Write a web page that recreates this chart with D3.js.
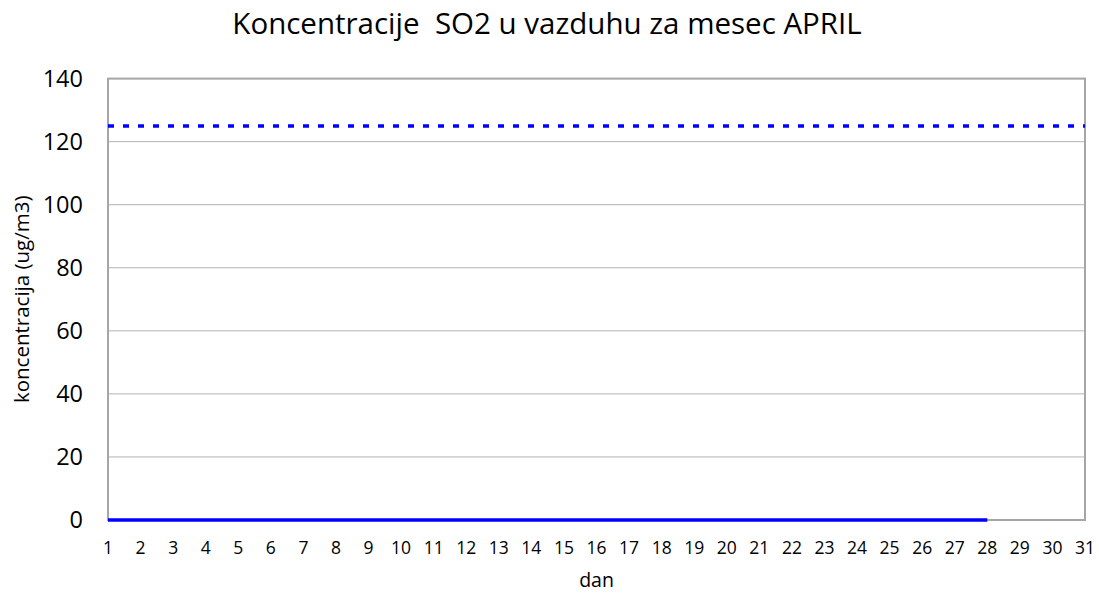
<!DOCTYPE html>
<html>
<head>
<meta charset="utf-8">
<script src="https://cdn.jsdelivr.net/npm/d3@7"></script>
<style>
  body { margin: 0; background: #fff; }
  text { font-family: "Open Sans", sans-serif; fill: #000; }
</style>
</head>
<body>
<div id="chart"></div>
<script>
// Days of the month and measured values
const days = d3.range(1, 32);
const so2Days = d3.range(1, 29);
const so2Values = [0, 0, 0, 0, 0, 0, 0, 0, 0, 0, 0, 0, 0, 0, 0, 0, 0, 0, 0, 0, 0, 0, 0, 0, 0, 0, 0, 0];
const limitValue = 125;
const yTicks = [0, 20, 40, 60, 80, 100, 120, 140];

const width = 1099;
const height = 594;
const margin = { top: 78.6, right: 14, bottom: 74, left: 108 };

const svg = d3.select('#chart')
  .append('svg')
    .attr('width', width)
    .attr('height', height);

const x = d3.scaleLinear()
  .domain([1, 31])
  .range([margin.left, width - margin.right]);

const y = d3.scaleLinear()
  .domain([0, 140])
  .range([height - margin.bottom, margin.top]);

// Gridlines
svg.append('g')
  .selectAll('line')
  .data(yTicks)
  .join('line')
    .attr('x1', margin.left)
    .attr('x2', width - margin.right)
    .attr('y1', d => y(d))
    .attr('y2', d => y(d))
    .attr('stroke', '#b3b3b3')
    .attr('stroke-width', 1);

// Plot border
svg.append('rect')
  .attr('x', margin.left)
  .attr('y', y(140))
  .attr('width', x(31) - margin.left)
  .attr('height', y(0) - y(140))
  .attr('fill', 'none')
  .attr('stroke', '#a6a6a6')
  .attr('stroke-width', 2);

// Y tick labels
svg.append('g')
  .selectAll('text')
  .data(yTicks)
  .join('text')
    .attr('x', 83)
    .attr('y', d => y(d))
    .attr('dy', '0.36em')
    .attr('text-anchor', 'end')
    .style('font-size', '23.5px')
    .text(d => d);

// X tick labels
svg.append('g')
  .selectAll('text')
  .data(days)
  .join('text')
    .attr('x', d => x(d))
    .attr('y', 554)
    .attr('text-anchor', 'middle')
    .style('font-size', '17.5px')
    .text(d => d);

// Limit line (dotted)
svg.append('line')
  .attr('x1', x(1))
  .attr('x2', x(31))
  .attr('y1', y(limitValue))
  .attr('y2', y(limitValue))
  .attr('stroke', '#0000ff')
  .attr('stroke-width', 3.5)
  .attr('stroke-dasharray', '6,9');

// SO2 series
const line = d3.line()
  .x((d, i) => x(so2Days[i]))
  .y(d => y(d));

svg.append('path')
  .datum(so2Values)
  .attr('d', line)
  .attr('fill', 'none')
  .attr('stroke', '#0000ff')
  .attr('stroke-width', 3.5);

// Title
svg.append('text')
  .attr('x', 547)
  .attr('y', 34)
  .attr('text-anchor', 'middle')
  .style('font-size', '29.5px')
  .style('white-space', 'pre')
  .text('Koncentracije  SO2 u vazduhu za mesec APRIL');

// Axis titles
svg.append('text')
  .attr('x', x(16))
  .attr('y', 587)
  .attr('text-anchor', 'middle')
  .style('font-size', '19.5px')
  .text('dan');

svg.append('text')
  .attr('transform', `translate(29, ${(y(0) + y(140)) / 2}) rotate(-90)`)
  .attr('text-anchor', 'middle')
  .style('font-size', '20.5px')
  .text('koncentracija (ug/m3)');
</script>
</body>
</html>
